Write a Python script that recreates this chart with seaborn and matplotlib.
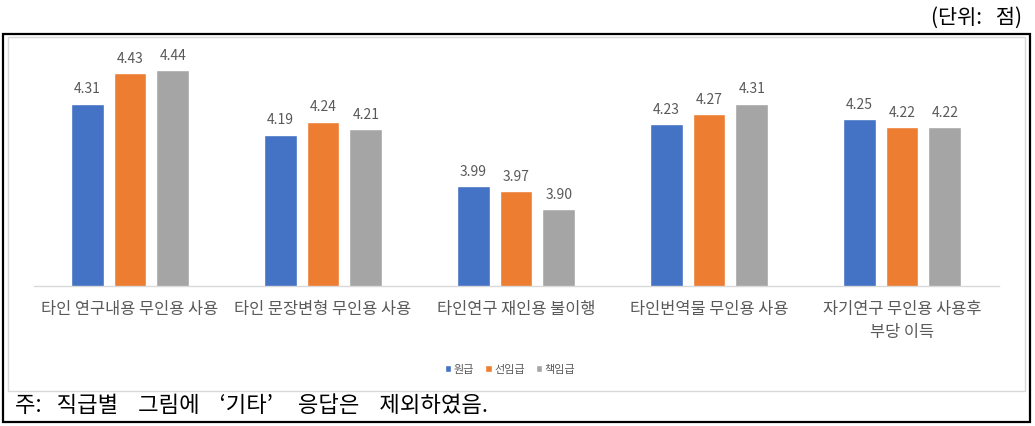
import matplotlib
matplotlib.use("Agg")
import matplotlib.pyplot as plt
from matplotlib.patches import Rectangle, Patch
import seaborn as sns
import pandas as pd

categories = ["타인 연구내용 무인용 사용", "타인 문장변형 무인용 사용", "타인연구 재인용 불이행",
              "타인번역물 무인용 사용", "자기연구 무인용 사용후\n부당 이득"]
series_names = ["원급", "선임급", "책임급"]
vals_won = [4.31, 4.19, 3.99, 4.23, 4.25]
vals_sun = [4.43, 4.24, 3.97, 4.27, 4.22]
vals_chaek = [4.44, 4.21, 3.90, 4.31, 4.22]
colors = ["#4472C4", "#ED7D31", "#A5A5A5"]

rows = []
for s, vals in zip(series_names, [vals_won, vals_sun, vals_chaek]):
    for c, v in zip(categories, vals):
        rows.append({"cat": c, "series": s, "value": v})
df = pd.DataFrame(rows)

sns.set_style("white")
plt.rcParams["font.family"] = ["Noto Sans CJK KR", "DejaVu Sans"]

W, H = 1035, 427
fig = plt.figure(figsize=(W / 100, H / 100), dpi=100)

def fx(x):
    return x / W

def fy(y):
    return (H - y) / H

# frames
fig.patches.append(Rectangle((fx(3), fy(423)), fx(1030) - fx(3), fy(35) - fy(423),
                             transform=fig.transFigure, fill=False, edgecolor="black", linewidth=1.6))
fig.patches.append(Rectangle((fx(8), fy(392)), fx(1025) - fx(8), fy(38) - fy(392),
                             transform=fig.transFigure, fill=False, edgecolor="#D9D9D9", linewidth=1.0))

ax = fig.add_axes([fx(33.5), fy(287), (965) / W, (287 - 56) / H])
sns.barplot(data=df, x="cat", y="value", hue="series", order=categories, hue_order=series_names,
            palette=colors, width=0.668, gap=0.233, ax=ax, legend=False, saturation=1)
ax.set_ylim(3.6, 4.5)
ax.set_xlim(-0.5, 4.5)
for cont in ax.containers:
    ax.bar_label(cont, fmt="%.2f", padding=6, color="#595959", fontsize=10)
for sp in ["top", "left", "right"]:
    ax.spines[sp].set_visible(False)
ax.spines["bottom"].set_color("#D9D9D9")
ax.spines["bottom"].set_linewidth(1.0)
ax.set_yticks([])
ax.set_xlabel("")
ax.set_ylabel("")
ax.tick_params(axis="x", length=0, pad=10, labelsize=11.8, labelcolor="#595959")
for t in ax.get_xticklabels():
    t.set_linespacing(1.5)
ax.patch.set_alpha(0)

handles = [Patch(facecolor=c, label=s) for c, s in zip(colors, series_names)]
fig.legend(handles=handles, loc="center", bbox_to_anchor=(fx(510), fy(370)), ncol=3, frameon=False,
           fontsize=8, handlelength=0.6, handleheight=0.6, handletextpad=0.2, columnspacing=1.0,
           labelcolor="#595959")

fig.text(fx(1022), fy(18), "(단위:   점)", ha="right", va="center", fontsize=15, color="black")
fig.text(fx(15), fy(406), "주:   직급별    그림에    ‘기타’     응답은    제외하였음.", ha="left", va="center",
         fontsize=16, color="black")

fig.savefig("out.png", dpi=100)
